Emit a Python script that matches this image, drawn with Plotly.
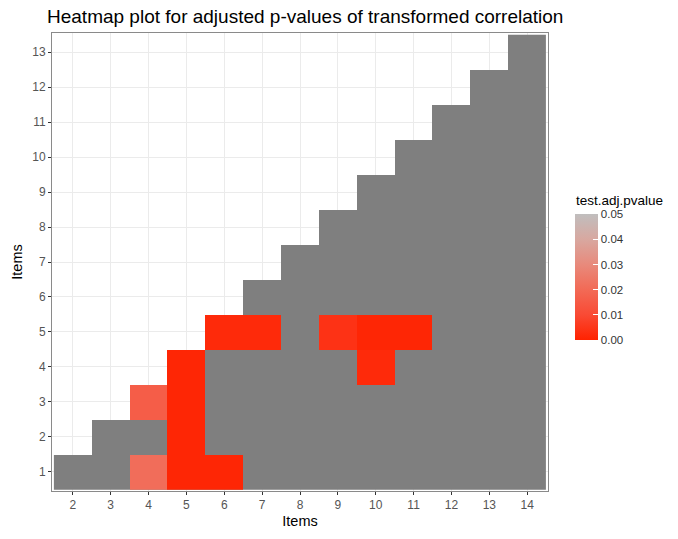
import plotly.graph_objects as go

# Items on each axis
x_items = [2, 3, 4, 5, 6, 7, 8, 9, 10, 11, 12, 13, 14]
y_items = [1, 2, 3, 4, 5, 6, 7, 8, 9, 10, 11, 12, 13]

# Significant adjusted p-values (x item, y item, p); other tiles are > 0.05 (grey)
sig_x = [4, 4, 5, 5, 5, 5, 6, 6, 7, 9, 10, 10, 11]
sig_y = [1, 3, 1, 2, 3, 4, 1, 5, 5, 5, 5, 4, 5]
sig_p = [0.021, 0.016, 0.001, 0.001, 0.001, 0.001, 0.001, 0.002, 0.002, 0.004, 0.001, 0.002, 0.001]

tick_vals = [0.0, 0.01, 0.02, 0.03, 0.04, 0.05]
tick_text = ["0.00", "0.01", "0.02", "0.03", "0.04", "0.05"]

colorscale = [
    [0.0, "#FF2200"],
    [0.2, "#F94A34"],
    [0.4, "#F26A56"],
    [0.6, "#E88A7C"],
    [0.8, "#D8A8A0"],
    [1.0, "#C0BEBE"],
]

# Grey tiles: upper triangle of the correlation matrix (non-significant)
grey_z = [[1 if yi < xi else None for xi in x_items] for yi in y_items]

# Significant tiles on the full grid
sig_z = [[None for _ in x_items] for _ in y_items]
for xv, yv, pv in zip(sig_x, sig_y, sig_p):
    sig_z[y_items.index(yv)][x_items.index(xv)] = pv

fig = go.Figure()
fig.add_trace(go.Heatmap(
    x=x_items, y=y_items, z=grey_z, colorscale=[[0, "#7F7F7F"], [1, "#7F7F7F"]],
    showscale=False, hoverinfo="skip",
))
fig.add_trace(go.Heatmap(
    x=x_items, y=y_items, z=sig_z, zmin=0, zmax=0.05, colorscale=colorscale,
    colorbar=dict(
        x=1.054, xanchor="left", xpad=0, ypad=0,
        y=0.467, yanchor="middle", len=126, lenmode="pixels", thickness=23,
        tickvals=tick_vals, ticktext=tick_text, ticks="inside", ticklen=5,
        tickcolor="white", tickfont=dict(size=11.5, color="#333333"),
        outlinewidth=0,
    ),
))

axis_common = dict(
    showgrid=True, gridcolor="#EBEBEB", gridwidth=1, zeroline=False,
    showline=True, linecolor="#8A8A8A", linewidth=1, mirror=True,
    ticks="outside", ticklen=3, tickcolor="#333333",
    tickfont=dict(size=12, color="#555555"), automargin=False,
)

fig.update_layout(
    width=678, height=539,
    margin=dict(l=52, r=130, t=33, b=48, autoexpand=False),
    paper_bgcolor="white", plot_bgcolor="white",
    font=dict(family="Liberation Sans, Arial, sans-serif"),
    title=dict(text="Heatmap plot for adjusted p-values of transformed correlation",
               x=47 / 678, xanchor="left", y=1 - 16 / 539, yanchor="middle",
               font=dict(size=19, color="#000000")),
    xaxis=dict(axis_common, range=[1.45, 14.55], tickvals=x_items,
               title=dict(text="Items", font=dict(size=14.5, color="#000000"), standoff=4)),
    yaxis=dict(axis_common, range=[0.45, 13.55], tickvals=y_items,
               title=dict(text="Items", font=dict(size=14.5, color="#000000"), standoff=6)),
    annotations=[dict(
        text="test.adj.pvalue", xref="paper", yref="paper",
        x=(574 - 52) / 496, y=(491 - 200) / 458, xanchor="left", yanchor="middle",
        showarrow=False, font=dict(size=13.5, color="#000000"),
    )],
)

fig.write_html("out.html", config={"displayModeBar": False},
               post_script="document.body.style.margin='0';")
